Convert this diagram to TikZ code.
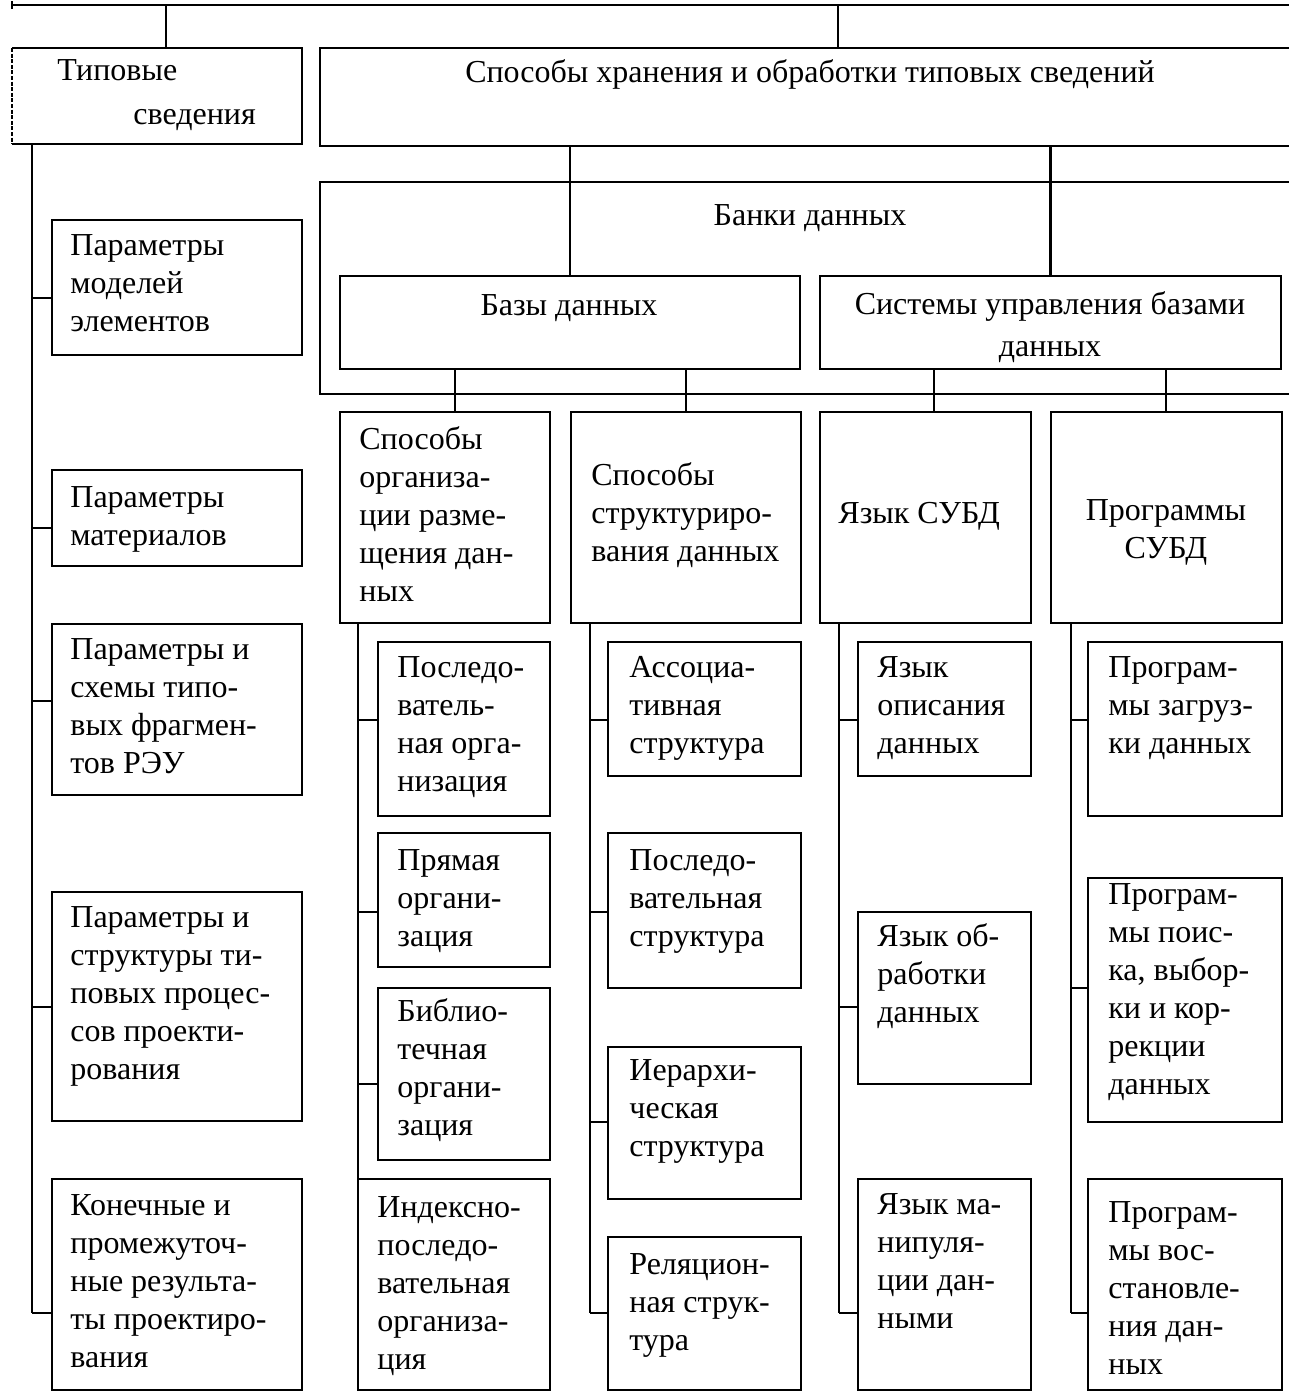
\documentclass[tikz,border=0pt]{standalone}
\usepackage{fontspec}
\setmainfont{Liberation Serif}
\newcommand\bx[5]{\node[box, minimum width={(#4-#2)*0.5pt}, minimum height={(#5-#3)*0.5pt}] (#1) at (#2,#3) {};}
\newcommand\tx[4]{\node[txt] (#1) at (#2,#3-24) {#4};}
\newcommand\br[3]{\draw[ln] (#1 |- 0,#3) -- (#2.west |- 0,#3);}
\begin{document}
\begin{tikzpicture}[x=0.5pt,y=-0.5pt,
  ln/.style={line width=1.1pt},
  box/.style={draw, line width=1.1pt, anchor=north west, inner sep=0pt, outer sep=0pt},
  txt/.style={anchor=north west, inner sep=0pt, align=left, font=\fontsize{16}{19}\selectfont, execute at begin node={\rule{0pt}{12pt}}},
  ctxt/.style={txt, anchor=north, align=center},
  htxt/.style={anchor=base, inner sep=0pt, font=\fontsize{16}{19}\selectfont}]
\useasboundingbox (0,0) rectangle (1289,1393);
\clip (0,0) rectangle (1289,1393);

% top line
\coordinate (topL) at (12,5);
\coordinate (topR) at (1320,5);
\draw[ln] (topL) -- (topR);
\draw[ln] (topL) ++(0,-4) -- ++(0,8);

% Типовые сведения
\node[box, draw=none, minimum width=145pt, minimum height=48pt] (tip) at (12,48) {};
\draw[ln] (tip.south west) -- (tip.south east) -- (tip.north east) -- (tip.north west);
\draw[ln, dash pattern=on 2pt off 0.8pt] (tip.north west) -- (tip.south west);
\node[txt] (tipt) at (57,83-24) {Типовые\\[3pt]\hspace*{38pt}сведения};

% header boxes
\bx{hdr}{320}{48}{1330}{146}
\node[htxt] (hdrt) at (810,82) {Способы хранения и обработки типовых сведений};
\bx{bank}{320}{182}{1330}{394}
\node[htxt] (bankt) at (810,225) {Банки данных};
\bx{bd}{340}{276}{800}{369}
\node[htxt] (bdt) at (569,315) {Базы данных};
\bx{subd}{820}{276}{1281}{369}
\node[ctxt] (subdt) at (1050,315-24) {Системы управления базами\\[2pt]данных};

% top connectors
\coordinate (v1) at (166,5);
\coordinate (v2) at (838,5);
\draw[ln] (v1) -- (v1 |- tip.north);
\draw[ln] (v2) -- (v2 |- hdr.north);
\draw[ln] (hdr.south -| bd.north) -- (bd.north);
\draw[ln] (hdr.south -| subd.north) -- (subd.north);

% level 3 boxes
\bx{so}{340}{412}{550}{623}
\tx{sot}{359}{450}{Способы\\организа-\\ции разме-\\щения дан-\\ных}
\bx{ss}{571}{412}{801}{623}
\tx{sst}{591}{486}{Способы\\структуриро-\\вания данных}
\bx{ys}{820}{412}{1031}{623}
\tx{yst}{838}{523}{Язык СУБД}
\bx{ps}{1051}{412}{1282}{623}
\node[ctxt] (pst) at (1166,523-24) {Программы\\СУБД};

\coordinate (k1) at (455,0);
\coordinate (k2) at (686,0);
\coordinate (k3) at (934,0);
\coordinate (k4) at (1166,0);
\draw[ln] (bd.south -| k1) -- (so.north -| k1);
\draw[ln] (bd.south -| k2) -- (ss.north -| k2);
\draw[ln] (subd.south -| k3) -- (ys.north -| k3);
\draw[ln] (subd.south -| k4) -- (ps.north -| k4);

% left column
\bx{p1}{52}{220}{302}{355}
\tx{p1t}{70}{258}{Параметры\\моделей\\элементов}
\bx{p2}{52}{470}{302}{566}
\tx{p2t}{70}{510}{Параметры\\материалов}
\bx{p3}{52}{624}{302}{795}
\tx{p3t}{70}{662}{Параметры и\\схемы типо-\\вых фрагмен-\\тов РЭУ}
\bx{p4}{52}{892}{302}{1121}
\tx{p4t}{70}{930}{Параметры и\\структуры ти-\\повых процес-\\сов проекти-\\рования}
\bx{p5}{52}{1179}{302}{1390}
\tx{p5t}{70}{1218}{Конечные и\\промежуточ-\\ные результа-\\ты проектиро-\\вания}
\coordinate (tL) at (32,144);
\coordinate (tLb) at (32,1313);
\draw[ln] (tL) -- (tLb);
\br{tL}{p1}{298}
\br{tL}{p2}{528}
\br{tL}{p3}{701}
\br{tL}{p4}{1007}
\br{tL}{p5}{1313}

% column 1
\bx{c11}{378}{642}{550}{816}
\tx{c11t}{397}{680}{Последо-\\ватель-\\ная орга-\\низация}
\bx{c12}{378}{833}{550}{967}
\tx{c12t}{397}{873}{Прямая\\органи-\\зация}
\bx{c13}{378}{988}{550}{1160}
\tx{c13t}{397}{1022}{Библио-\\течная\\органи-\\зация}
\bx{c14}{358}{1179}{550}{1390}
\tx{c14t}{377}{1220}{Индексно-\\последо-\\вательная\\организа-\\ция}
\coordinate (t1) at (358,623);
\draw[ln] (t1) -- (c14.north west);
\br{t1}{c11}{720}
\br{t1}{c12}{912}
\br{t1}{c13}{1084}

% column 2
\bx{c21}{608}{642}{801}{776}
\tx{c21t}{629}{680}{Ассоциа-\\тивная\\структура}
\bx{c22}{608}{833}{801}{988}
\tx{c22t}{629}{873}{Последо-\\вательная\\структура}
\bx{c23}{608}{1047}{801}{1199}
\tx{c23t}{629}{1083}{Иерархи-\\ческая\\структура}
\bx{c24}{608}{1237}{801}{1390}
\tx{c24t}{629}{1277}{Реляцион-\\ная струк-\\тура}
\coordinate (t2) at (590,623);
\coordinate (t2b) at (590,1313);
\draw[ln] (t2) -- (t2b);
\br{t2}{c21}{720}
\br{t2}{c22}{912}
\br{t2}{c23}{1122}
\br{t2}{c24}{1313}

% column 3
\bx{c31}{858}{642}{1031}{776}
\tx{c31t}{877}{680}{Язык\\описания\\данных}
\bx{c32}{858}{912}{1031}{1084}
\tx{c32t}{877}{947}{Язык об-\\работки\\данных}
\bx{c33}{858}{1179}{1031}{1390}
\tx{c33t}{877}{1217}{Язык ма-\\нипуля-\\ции дан-\\ными}
\coordinate (t3) at (839,623);
\coordinate (t3b) at (839,1313);
\draw[ln] (t3) -- (t3b);
\br{t3}{c31}{720}
\br{t3}{c32}{1007}
\br{t3}{c33}{1313}

% column 4
\bx{c41}{1088}{642}{1282}{816}
\tx{c41t}{1108}{680}{Програм-\\мы загруз-\\ки данных}
\bx{c42}{1088}{878}{1282}{1122}
\tx{c42t}{1108}{907}{Програм-\\мы поис-\\ка, выбор-\\ки и кор-\\рекции\\данных}
\bx{c43}{1088}{1179}{1282}{1390}
\tx{c43t}{1108}{1225}{Програм-\\мы вос-\\становле-\\ния дан-\\ных}
\coordinate (t4) at (1071,623);
\coordinate (t4b) at (1071,1313);
\draw[ln] (t4) -- (t4b);
\br{t4}{c41}{720}
\br{t4}{c42}{988}
\br{t4}{c43}{1313}
\end{tikzpicture}
\end{document}
